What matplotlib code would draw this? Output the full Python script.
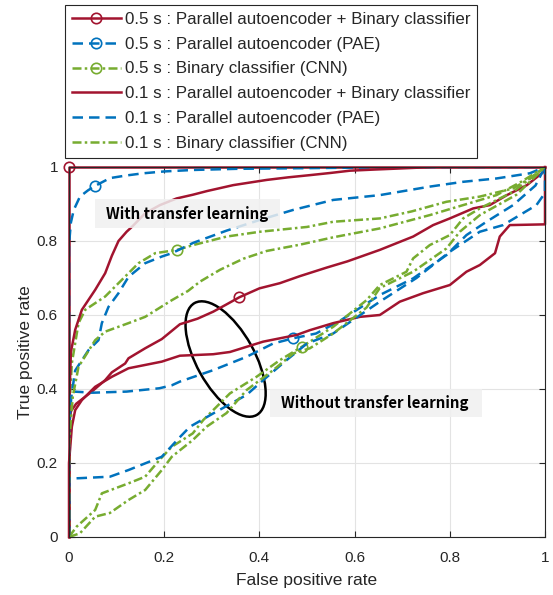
import matplotlib

matplotlib.use("Agg")
import matplotlib.pyplot as plt
from matplotlib.patches import Ellipse, Rectangle
from matplotlib.transforms import ScaledTranslation

plt.rcParams["font.family"] = ["Liberation Sans", "DejaVu Sans"]

RED = "#A2142F"
BLUE = "#0072BD"
GREEN = "#77AC30"

# --- with transfer learning --------------------------------------------------
tl05_both_x = [0, 0, 1]
tl05_both_y = [0, 1, 1]
tl05_both_mark = 1

tl01_both_x = [0, 0, 0.002, 0.004, 0.013, 0.027, 0.055, 0.076, 0.09, 0.104, 0.121,
               0.132, 0.16, 0.191, 0.226, 0.26, 0.29, 0.345, 0.38, 0.415, 0.46,
               0.506, 0.55, 0.59, 0.64, 0.695, 0.73, 0.765, 1]
tl01_both_y = [0, 0.32, 0.42, 0.5, 0.56, 0.614, 0.668, 0.713, 0.76, 0.8, 0.825,
               0.838, 0.875, 0.897, 0.915, 0.925, 0.935, 0.951, 0.958, 0.965, 0.972,
               0.978, 0.984, 0.99, 0.993, 0.996, 0.998, 1, 1]

tl05_pae_x = [0, 0, 0.004, 0.01, 0.023, 0.04, 0.055, 0.086, 0.12, 0.156, 0.2,
              0.261, 0.35, 0.506, 0.65, 0.8, 1]
tl05_pae_y = [0, 0.79, 0.85, 0.884, 0.92, 0.937, 0.949, 0.97, 0.977, 0.983, 0.988,
              0.992, 0.995, 0.997, 0.999, 1, 1]
tl05_pae_mark = 6

tl01_pae_x = [0, 0, 0.005, 0.013, 0.041, 0.062, 0.069, 0.083, 0.104, 0.125, 0.16,
              0.195, 0.216, 0.261, 0.331, 0.401, 0.471, 0.555, 0.653, 0.758, 0.828,
              0.898, 0.968, 1]
tl01_pae_y = [0, 0.3, 0.38, 0.45, 0.505, 0.532, 0.578, 0.622, 0.659, 0.703, 0.74,
              0.758, 0.767, 0.795, 0.828, 0.857, 0.884, 0.911, 0.924, 0.947, 0.96,
              0.969, 0.983, 1]

tl05_cnn_x = [0, 0, 0.003, 0.006, 0.02, 0.034, 0.055, 0.076, 0.111, 0.146, 0.181,
              0.227, 0.261, 0.331, 0.401, 0.5, 0.555, 0.653, 0.72, 0.793, 0.863,
              0.933, 0.968, 1]
tl05_cnn_y = [0, 0.3, 0.4, 0.47, 0.578, 0.614, 0.632, 0.65, 0.695, 0.74, 0.767,
              0.776, 0.789, 0.812, 0.825, 0.838, 0.852, 0.861, 0.88, 0.906, 0.92,
              0.942, 0.969, 1]
tl05_cnn_mark = 11

tl01_cnn_x = [0, 0, 0.008, 0.02, 0.055, 0.076, 0.125, 0.16, 0.216, 0.25, 0.275,
              0.317, 0.366, 0.415, 0.485, 0.555, 0.653, 0.758, 0.828, 0.898, 0.95,
              1]
tl01_cnn_y = [0, 0.25, 0.38, 0.46, 0.532, 0.555, 0.578, 0.595, 0.64, 0.665, 0.69,
              0.722, 0.752, 0.773, 0.79, 0.81, 0.834, 0.87, 0.897, 0.924, 0.96, 1]

# --- without transfer learning -----------------------------------------------
nt05_both_x = [0, 0, 0.004, 0.015, 0.048, 0.076, 0.09, 0.118, 0.125, 0.16, 0.195,
               0.233, 0.27, 0.303, 0.33, 0.358, 0.4, 0.443, 0.485, 0.541, 0.585,
               0.653, 0.723, 0.765, 0.8, 0.849, 0.884, 0.92, 0.962, 1, 1]
nt05_both_y = [0, 0.3, 0.34, 0.36, 0.393, 0.424, 0.445, 0.469, 0.483, 0.51, 0.535,
               0.575, 0.59, 0.609, 0.628, 0.648, 0.672, 0.686, 0.705, 0.728, 0.745,
               0.776, 0.812, 0.843, 0.861, 0.888, 0.897, 0.924, 0.951, 0.99, 1]
nt05_both_mark = 15

nt01_both_x = [0, 0, 0.006, 0.013, 0.027, 0.055, 0.09, 0.125, 0.195, 0.233, 0.303,
               0.338, 0.408, 0.478, 0.506, 0.555, 0.611, 0.653, 0.695, 0.744, 0.8,
               0.835, 0.863, 0.895, 0.905, 0.926, 1, 1]
nt01_both_y = [0, 0.2, 0.298, 0.343, 0.37, 0.406, 0.433, 0.456, 0.474, 0.49, 0.494,
               0.5, 0.528, 0.546, 0.559, 0.578, 0.595, 0.6, 0.636, 0.659, 0.681,
               0.717, 0.735, 0.767, 0.812, 0.843, 0.845, 1]

nt05_pae_x = [0, 0, 0.01, 0.05, 0.121, 0.19, 0.216, 0.233, 0.303, 0.373, 0.429,
              0.471, 0.519, 0.57, 0.653, 0.723, 0.793, 0.835, 0.877, 0.933, 0.98, 1]
nt05_pae_y = [0, 0.39, 0.393, 0.39, 0.393, 0.402, 0.41, 0.42, 0.451, 0.487, 0.523,
              0.537, 0.55, 0.585, 0.654, 0.699, 0.762, 0.816, 0.852, 0.897, 0.95, 1]
nt05_pae_mark = 11

nt01_pae_x = [0, 0, 0.023, 0.086, 0.125, 0.195, 0.233, 0.254, 0.303, 0.373, 0.408,
              0.457, 0.5, 0.555, 0.653, 0.73, 0.8, 0.863, 0.912, 0.947, 0.982, 1, 1]
nt01_pae_y = [0, 0.158, 0.159, 0.163, 0.181, 0.217, 0.27, 0.298, 0.334, 0.384,
              0.424, 0.478, 0.523, 0.55, 0.636, 0.7, 0.771, 0.825, 0.843, 0.87, 0.897,
              0.93, 1]

nt05_cnn_x = [0, 0.016, 0.055, 0.069, 0.125, 0.16, 0.19, 0.216, 0.26, 0.282, 0.338,
              0.394, 0.443, 0.489, 0.555, 0.625, 0.653, 0.709, 0.723, 0.758, 0.8,
              0.828, 0.863, 0.933, 1]
nt05_cnn_y = [0, 0.028, 0.073, 0.118, 0.145, 0.163, 0.208, 0.244, 0.28, 0.316,
              0.388, 0.433, 0.478, 0.514, 0.568, 0.64, 0.681, 0.717, 0.753, 0.789,
              0.816, 0.861, 0.888, 0.933, 1]
nt05_cnn_mark = 13

nt01_cnn_x = [0, 0.023, 0.055, 0.086, 0.125, 0.16, 0.195, 0.216, 0.26, 0.289, 0.331,
              0.373, 0.429, 0.471, 0.506, 0.555, 0.625, 0.653, 0.723, 0.793, 0.821,
              0.863, 0.94, 1]
nt01_cnn_y = [0, 0.01, 0.055, 0.065, 0.1, 0.127, 0.181, 0.217, 0.262, 0.298, 0.335,
              0.397, 0.451, 0.496, 0.51, 0.55, 0.62, 0.673, 0.717, 0.78, 0.825,
              0.87, 0.925, 1]

labels = [
    "0.5 s : Parallel autoencoder + Binary classifier",
    "0.5 s : Parallel autoencoder (PAE)",
    "0.5 s : Binary classifier (CNN)",
    "0.1 s : Parallel autoencoder + Binary classifier",
    "0.1 s : Parallel autoencoder (PAE)",
    "0.1 s : Binary classifier (CNN)",
]
ticks = [0, 0.2, 0.4, 0.6, 0.8, 1]
tick_labels = ["0", "0.2", "0.4", "0.6", "0.8", "1"]

fig = plt.figure(figsize=(5.53, 5.95), dpi=100)
ax = fig.add_axes([69 / 553, 58 / 595, 476 / 553, 370 / 595])

LW = 1.8
DASH = (0, (4.2, 2.4))
DASHDOT = (0, (3.6, 1.3, 1, 1.3))
mk = dict(marker="o", markersize=7.5, markerfacecolor="none", markeredgewidth=1.2)

# 0.5 s curves (with markers), both conditions
h1, = ax.plot(tl05_both_x, tl05_both_y, color=RED, lw=LW, ls="-",
              markevery=[tl05_both_mark], clip_on=False, **mk)
ax.plot(nt05_both_x, nt05_both_y, color=RED, lw=LW, ls="-",
        markevery=[nt05_both_mark], **mk)
h2, = ax.plot(tl05_pae_x, tl05_pae_y, color=BLUE, lw=LW, ls=DASH,
              markevery=[tl05_pae_mark], **mk)
ax.plot(nt05_pae_x, nt05_pae_y, color=BLUE, lw=LW, ls=DASH,
        markevery=[nt05_pae_mark], **mk)
h3, = ax.plot(tl05_cnn_x, tl05_cnn_y, color=GREEN, lw=LW, ls=DASHDOT,
              markevery=[tl05_cnn_mark], **mk)
ax.plot(nt05_cnn_x, nt05_cnn_y, color=GREEN, lw=LW, ls=DASHDOT,
        markevery=[nt05_cnn_mark], **mk)

# 0.1 s curves
h4, = ax.plot(tl01_both_x, tl01_both_y, color=RED, lw=LW, ls="-")
ax.plot(nt01_both_x, nt01_both_y, color=RED, lw=LW, ls="-", clip_on=False)
h5, = ax.plot(tl01_pae_x, tl01_pae_y, color=BLUE, lw=LW, ls=DASH)
ax.plot(nt01_pae_x, nt01_pae_y, color=BLUE, lw=LW, ls=DASH)
h6, = ax.plot(tl01_cnn_x, tl01_cnn_y, color=GREEN, lw=LW, ls=DASHDOT)
ax.plot(nt01_cnn_x, nt01_cnn_y, color=GREEN, lw=LW, ls=DASHDOT)

ax.set_xlim(0, 1)
ax.set_ylim(0, 1)
ax.set_xticks(ticks)
ax.set_xticklabels(tick_labels)
ax.set_yticks(ticks)
ax.set_yticklabels(tick_labels)
ax.grid(True, color="#e3e3e3", lw=0.8)
ax.set_axisbelow(True)
ax.tick_params(direction="in", length=4, width=0.8, colors="#262626",
               labelsize=11, top=True, right=True)
ax.tick_params(axis="x", pad=10)
ax.tick_params(axis="y", pad=8)
for s in ax.spines.values():
    s.set_color("#262626")
    s.set_linewidth(0.8)
ax.set_xlabel("False positive rate", fontsize=12.5, color="#262626", labelpad=6)
ax.set_ylabel("True positive rate", fontsize=12.5, color="#262626", labelpad=3)

# annotations
ell = Ellipse((0, 0), 128 / 100, 58 / 100, angle=-61, fill=False, ec="black", lw=1.8,
              transform=fig.dpi_scale_trans + ScaledTranslation(0.329, 0.481, ax.transData))
ax.add_patch(ell)

note_font = ["Noto Sans CJK KR", "DejaVu Sans"]
ax.add_patch(Rectangle((0.055, 0.835), 0.388, 0.078, facecolor="#f0f0f0",
                       edgecolor="none", alpha=0.85, zorder=3))
ax.text(0.249, 0.874, "With transfer learning", ha="center", va="center",
        fontsize=10.8, fontweight="bold", family=note_font, zorder=4)
ax.add_patch(Rectangle((0.422, 0.324), 0.445, 0.076, facecolor="#f0f0f0",
                       edgecolor="none", alpha=0.85, zorder=3))
ax.text(0.643, 0.362, "Without transfer learning", ha="center", va="center",
        fontsize=10.8, fontweight="bold", family=note_font, zorder=4)

leg = fig.legend([h1, h2, h3, h4, h5, h6], labels, loc="upper left",
                 bbox_to_anchor=(65 / 553, 1 - 5 / 595), fontsize=12.2,
                 handlelength=2.9, handletextpad=0.25, labelspacing=0.58,
                 borderpad=0.4, borderaxespad=0, fancybox=False, framealpha=1)
leg.get_frame().set_edgecolor("#262626")
leg.get_frame().set_linewidth(0.8)
for t in leg.get_texts():
    t.set_color("#262626")

fig.savefig("out.png", dpi=100)
